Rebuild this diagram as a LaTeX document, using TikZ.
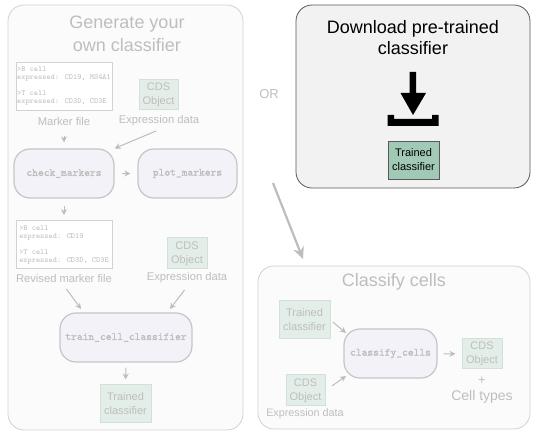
\documentclass[tikz,border=0pt]{standalone}
\usepackage{fontspec}
\usetikzlibrary{arrows.meta}
\setmainfont{Liberation Sans}
\newfontfamily\funcfont[FakeBold=1.2]{Latin Modern Mono}
\definecolor{fadedtext}{HTML}{BEBEBE}
\definecolor{fadedline}{HTML}{BDBDBD}
\definecolor{panelfill}{HTML}{FBFBFB}
\definecolor{paneldraw}{HTML}{D2D2D2}
\definecolor{objfill}{HTML}{E3EEE8}
\definecolor{objdraw}{HTML}{D3E0D9}
\definecolor{funcfill}{HTML}{F3F2F9}
\definecolor{funcdraw}{HTML}{C6C6C8}
\definecolor{darkfill}{HTML}{F2F2F2}
\definecolor{darkobj}{HTML}{A0C9B6}
\tikzset{
    panel/.style={draw=paneldraw, fill=panelfill, line width=0.8pt, rounded corners=16},
    title/.style={text=fadedtext, align=center, font=\fontsize{18}{23}\selectfont},
    objbox/.style={draw=objdraw, fill=objfill, line width=1pt, text=fadedtext, align=center, inner sep=0pt, font=\fontsize{11}{14}\selectfont},
    filebox/.style={draw=paneldraw, fill=white, line width=0.8pt, text=fadedtext, align=left, inner sep=0pt, minimum width=96, minimum height=48, font=\ttfamily\fontsize{7.9}{8}\selectfont},
    funcbox/.style={draw=funcdraw, fill=funcfill, line width=1.2pt, rounded corners=16, text=fadedline, inner sep=0pt, minimum height=49, font=\funcfont\fontsize{11}{12}\selectfont},
    caption/.style={text=fadedtext, font=\fontsize{11.2}{13}\selectfont},
    flow/.style={-{Stealth[length=6, width=6]}, draw=fadedline, line width=1pt}
}
\begin{document}
\begin{tikzpicture}[>=stealth, x=1pt, y=-1pt]
    \useasboundingbox (0, 0) rectangle (542, 441);

    % Panels
    \draw[panel] (8, 5) rectangle (243, 430);
    \draw[panel] (258, 266) rectangle (530, 429);
    \draw[line width=0.8pt, draw=black!65, fill=darkfill, rounded corners=16] (296, 5) rectangle (530, 188);

    % Generate your own classifier
    \node[title] (gentitle) at (127, 33.5) {Generate your\\own classifier};
    \node[filebox] (markerfile) at (64, 86) {>B cell\\expressed: CD19, MS4A1\\[8pt]>T cell\\expressed: CD3D, CD3E};
    \node[objbox, minimum width=39, minimum height=30] (cdsa) at (158.5, 95) {CDS\\Object};
    \node[caption] (markerlabel) at (64, 121) {Marker file};
    \node[caption] (expra) at (159, 121) {Expression data};
    \node[funcbox, minimum width=100] (check) at (64, 173.5) {check\_markers};
    \node[funcbox, minimum width=99] (plot) at (187.5, 173.5) {plot\_markers};
    \node[filebox] (revised) at (64, 244.5) {>B cell\\expressed: CD19\\[8pt]>T cell\\expressed: CD3D, CD3E};
    \node[objbox, minimum width=40, minimum height=31] (cdsb) at (187, 253.5) {CDS\\Object};
    \node[caption] (revisedlabel) at (64, 278) {Revised marker file};
    \node[caption] (exprb) at (187, 278) {Expression data};
    \node[funcbox, minimum width=132] (train) at (126, 337.5) {train\_cell\_classifier};
    \node[objbox, minimum width=51, minimum height=38] (trainedout) at (125.5, 404) {Trained\\classifier};
    \coordinate (trainleft) at (81, 309);
    \coordinate (trainright) at (170, 309);

    \draw[flow, shorten <=7, shorten >=6] (markerlabel.south) -- (check.north);
    \draw[flow, shorten <=3] (expra.south) -- (check.north east);
    \draw[flow, shorten <=7, shorten >=7] (check) -- (plot);
    \draw[flow, shorten <=7, shorten >=5] (check.south) -- (revised.north);
    \draw[flow, shorten <=4] (revisedlabel.south) -- (trainleft);
    \draw[flow, shorten <=4] (exprb.south) -- (trainright);
    \draw[flow, shorten <=5, shorten >=5] (train.south) -- (trainedout.north);

    % Download pre-trained classifier
    \node[align=center, font=\fontsize{18}{21}\selectfont] (dltitle) at (413, 37.5) {Download pre-trained\\classifier};
    \fill[black] (409.5, 72) -- (416, 72) -- (416, 93) -- (426, 93) -- (413, 115) -- (400.5, 93) -- (409.5, 93) -- cycle;
    \fill[black] (387.5, 115) -- (394, 115) -- (394, 119) -- (432, 119) -- (432, 115) -- (438.5, 115) -- (438.5, 126) -- (387.5, 126) -- cycle;
    \node[draw=black!65, fill=darkobj, line width=0.8pt, align=center, inner sep=0pt, minimum width=51, minimum height=38, font=\fontsize{11}{14}\selectfont] (trainedfile) at (413.5, 160) {Trained\\classifier};

    % OR
    \node[text=fadedtext, font=\fontsize{13}{15}\selectfont] (ortext) at (269, 94) {OR};
    \coordinate (orstart) at (273, 183);
    \coordinate (orend) at (303, 259);
    \draw[-{Stealth[length=12, width=11]}, draw=fadedline, line width=2.2pt] (orstart) -- (orend);

    % Classify cells
    \node[title] (classtitle) at (394, 282) {Classify cells};
    \node[objbox, minimum width=51, minimum height=38] (trainedin) at (304.5, 320) {Trained\\classifier};
    \node[objbox, minimum width=39, minimum height=31] (cdsc) at (305.5, 390.5) {CDS\\Object};
    \node[caption, font=\fontsize{10.8}{13}\selectfont] (exprc) at (305, 414) {Expression data};
    \node[funcbox, minimum width=93] (classify) at (390.5, 353.5) {classify\_cells};
    \node[objbox, minimum width=40, minimum height=30] (cdsd) at (482, 354) {CDS\\Object};
    \node[text=fadedtext, font=\fontsize{13}{15}\selectfont] (plus) at (482, 381) {+};
    \node[text=fadedtext, font=\fontsize{14}{18}\selectfont] (celltypes) at (482, 397) {Cell types};
    \coordinate (classifytop) at (346, 333);
    \coordinate (classifybot) at (346, 376);

    \draw[flow, shorten <=3] (trainedin.east) -- (classifytop);
    \draw[flow, shorten <=8] (cdsc.east) -- (classifybot);
    \draw[flow, shorten <=6, shorten >=6] (classify) -- (cdsd);
\end{tikzpicture}
\end{document}
